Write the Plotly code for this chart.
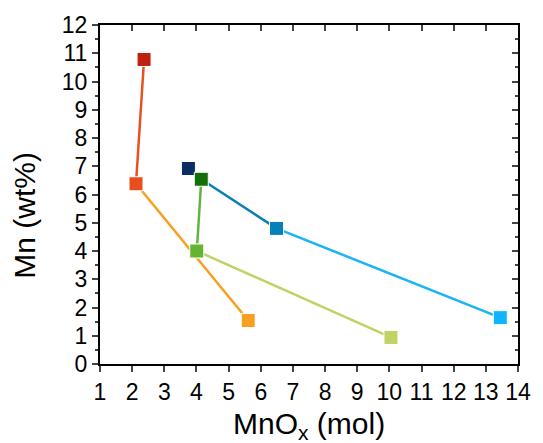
import plotly.graph_objects as go

# Data
seg_lines = [
    # (xs, ys, color)
    ((2.12, 2.37), (6.38, 10.78), "#e8501e"),
    ((2.12, 5.61), (6.38, 1.54), "#f8a020"),
    ((4.15, 6.49), (6.54, 4.80), "#0a7fb4"),
    ((6.49, 13.45), (4.80, 1.64), "#18b4f5"),
    ((4.15, 4.01), (6.54, 4.00), "#64b43c"),
    ((4.01, 10.05), (4.00, 0.94), "#c0d264"),
]
pt_x = [2.37, 2.12, 5.61, 3.75, 4.15, 6.49, 13.45, 4.01, 10.05]
pt_y = [10.78, 6.38, 1.54, 6.92, 6.54, 4.80, 1.64, 4.00, 0.94]
pt_c = ["#c0200e", "#e84d1e", "#f5a020", "#0a2d64", "#146e0a", "#0580b8", "#10b4ff", "#64b432", "#c3d264"]

x_ticks = list(range(1, 15))
y_ticks = list(range(0, 13))
x_title = "MnO<sub>x</sub> (mol)"
y_title = "Mn (wt%)"

fig = go.Figure()
for xs, ys, c in seg_lines:
    fig.add_trace(go.Scatter(x=list(xs), y=list(ys), mode="lines",
                             line=dict(color=c, width=2.5), showlegend=False, hoverinfo="skip"))
fig.add_trace(go.Scatter(x=pt_x, y=pt_y, mode="markers",
                         marker=dict(symbol="square", size=14, color=pt_c,
                                     line=dict(color="white", width=1)),
                         showlegend=False))
# invisible trace for the mirror axes
fig.add_trace(go.Scatter(x=[1], y=[0], xaxis="x2", yaxis="y2", mode="markers",
                         marker=dict(opacity=0), showlegend=False, hoverinfo="skip"))

font = "Liberation Sans, Arial, sans-serif"
fig.update_layout(
    width=543, height=443,
    margin=dict(l=100, r=17, t=22, b=79),
    plot_bgcolor="white", paper_bgcolor="white",
    font=dict(family=font, color="black"),
    xaxis=dict(range=[1, 14], tickvals=x_ticks, ticks="outside", ticklen=6, tickwidth=1.5,
               showline=True, linewidth=2, linecolor="black", showgrid=False, zeroline=False,
               tickfont=dict(size=23, family=font)),
    yaxis=dict(range=[0, 12], tickvals=y_ticks, ticks="outside", ticklen=6, tickwidth=1.5,
               showline=True, linewidth=2, linecolor="black", showgrid=False, zeroline=False,
               tickfont=dict(size=23, family=font),
               minor=dict(ticks="outside", ticklen=3, tickwidth=1.5, dtick=0.5, tick0=0, showgrid=False)),
    xaxis2=dict(range=[1, 14], overlaying="x", side="top", tickvals=x_ticks, ticks="inside",
                ticklen=6, tickwidth=1.5, showticklabels=False, showline=True, linewidth=2,
                linecolor="black", showgrid=False, zeroline=False),
    yaxis2=dict(range=[0, 12], overlaying="y", side="right", tickvals=y_ticks, ticks="inside",
                ticklen=6, tickwidth=1.5, showticklabels=False, showline=True, linewidth=2,
                linecolor="black", showgrid=False, zeroline=False,
                minor=dict(ticks="inside", ticklen=3, tickwidth=1.5, dtick=0.5, tick0=0, showgrid=False)),
    annotations=[
        dict(text=x_title, xref="paper", yref="paper", x=0.5, y=(364 - 426) / 342,
             xanchor="center", yanchor="middle", showarrow=False,
             font=dict(size=30, family=font)),
        dict(text=y_title, xref="paper", yref="paper", x=(23 - 100) / 426, y=(364 - 214) / 342,
             xanchor="center", yanchor="middle", textangle=-90, showarrow=False,
             font=dict(size=30, family=font)),
    ],
)
fig.write_html("out.html")
